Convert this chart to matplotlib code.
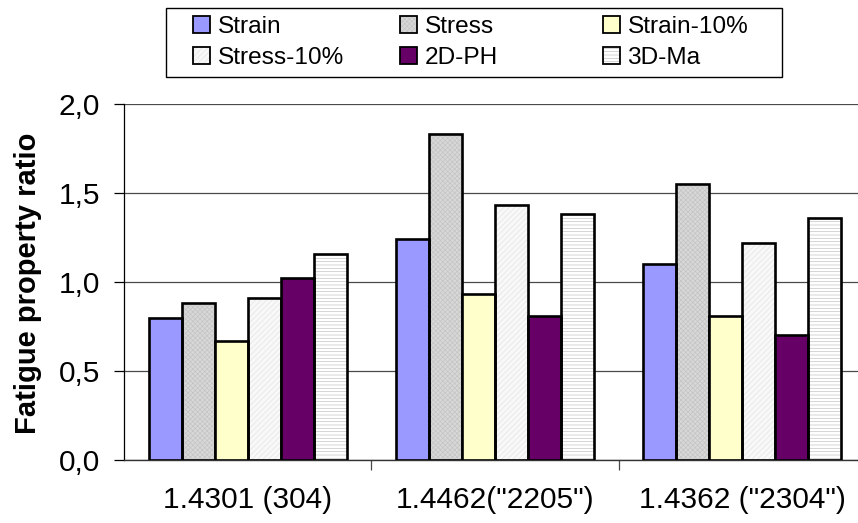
import numpy as np
import matplotlib
matplotlib.use('Agg')
import matplotlib.pyplot as plt
from matplotlib.patches import Patch, Rectangle
from matplotlib.legend_handler import HandlerTuple

plt.rcParams['font.family'] = ['Liberation Sans', 'DejaVu Sans']
plt.rcParams['hatch.linewidth'] = 0.5

# ---- data ----
groups = ['1.4301 (304)', '1.4462("2205")', '1.4362 ("2304")']
series = ['Strain', 'Stress', 'Strain-10%', 'Stress-10%', '2D-PH', '3D-Ma']
strain      = [0.80, 1.24, 1.10]
stress      = [0.88, 1.83, 1.55]
strain_10   = [0.67, 0.93, 0.81]
stress_10   = [0.91, 1.43, 1.22]
ph_2d       = [1.02, 0.81, 0.70]
ma_3d       = [1.16, 1.38, 1.36]
yticks = [0.0, 0.5, 1.0, 1.5, 2.0]
ytick_labels = ['0,0', '0,5', '1,0', '1,5', '2,0']

values = [strain, stress, strain_10, stress_10, ph_2d, ma_3d]
# face colour, hatch pattern, hatch colour
styles = [
    ('#9999ff', None, None),
    ('#d8d8d8', 'xxxxxxx', '#c4c4c4'),
    ('#ffffcc', None, None),
    ('#f8f8f8', '//////', '#e4e4e4'),
    ('#660066', None, None),
    ('#ffffff', '-----', '#c4c4c4'),
]

W, H = 858, 523
fig = plt.figure(figsize=(W / 100, H / 100), dpi=100)
ax = fig.add_axes([124 / W, 1 - 460 / H, (866 - 124) / W, (460 - 104) / H])

x = np.arange(len(groups))
bw = 0.8 / len(series)
handles = []
for i, (vals, (fc, hatch, hc)) in enumerate(zip(values, styles)):
    pos = x + (i - 2.5) * bw
    if hatch:
        ax.bar(pos, vals, bw, color=fc, hatch=hatch, edgecolor=hc, linewidth=0, zorder=2)
        ax.bar(pos, vals, bw, fill=False, edgecolor='black', linewidth=1.9, zorder=3)
        h = (Patch(facecolor=fc, hatch=hatch, edgecolor=hc, linewidth=0),
             Patch(fill=False, edgecolor='black', linewidth=1.3))
    else:
        ax.bar(pos, vals, bw, color=fc, edgecolor='black', linewidth=1.9, zorder=3)
        h = Patch(facecolor=fc, edgecolor='black', linewidth=1.3)
    handles.append(h)

ax.set_xlim(-0.5, len(groups) - 0.5)
ax.set_ylim(0, 2.0)
ax.set_yticks(yticks)
ax.set_yticklabels(ytick_labels)
ax.yaxis.grid(True, color='#4a4a4a', linewidth=0.9, zorder=0)
ax.set_axisbelow(True)

ax.set_xticks(x)
ax.set_xticklabels(groups)
ax.set_xticks(x[:-1] + 0.5, minor=True)
ax.tick_params(axis='x', which='major', length=0, pad=19, labelsize=21.5)
ax.tick_params(axis='x', which='minor', length=7.2, width=0.9, color='#4a4a4a', direction='out')
ax.tick_params(axis='y', length=7.2, width=0.9, pad=10, labelsize=21.5, direction='out')

for s in ['top', 'right']:
    ax.spines[s].set_visible(False)
ax.spines['left'].set_color('black')
ax.spines['left'].set_linewidth(0.9)
ax.spines['bottom'].set_color('#333333')
ax.spines['bottom'].set_linewidth(1.0)

fig.text(28 / W, 1 - 283 / H, 'Fatigue property ratio', rotation=90,
         ha='center', va='center', fontsize=21, fontweight='bold')

# legend: frame plus three columns laid out like the original
fig.add_artist(Rectangle((166 / W, 1 - 77 / H), (782 - 166) / W, 69 / H,
                         transform=fig.transFigure, fill=False,
                         edgecolor='black', linewidth=1.0))
col_x = [193, 400, 603]
for j in range(3):
    idx = [j, j + 3]
    fig.legend([handles[k] for k in idx], [series[k] for k in idx],
               handler_map={tuple: HandlerTuple(ndivide=1, pad=0)},
               loc='center left', bbox_to_anchor=(col_x[j] / W, 1 - 42.5 / H),
               frameon=False, fontsize=17.6, borderpad=0, borderaxespad=0,
               handlelength=0.7, handleheight=0.68, handletextpad=0.3,
               labelspacing=0.38)

fig.savefig('out.png', dpi=100)
